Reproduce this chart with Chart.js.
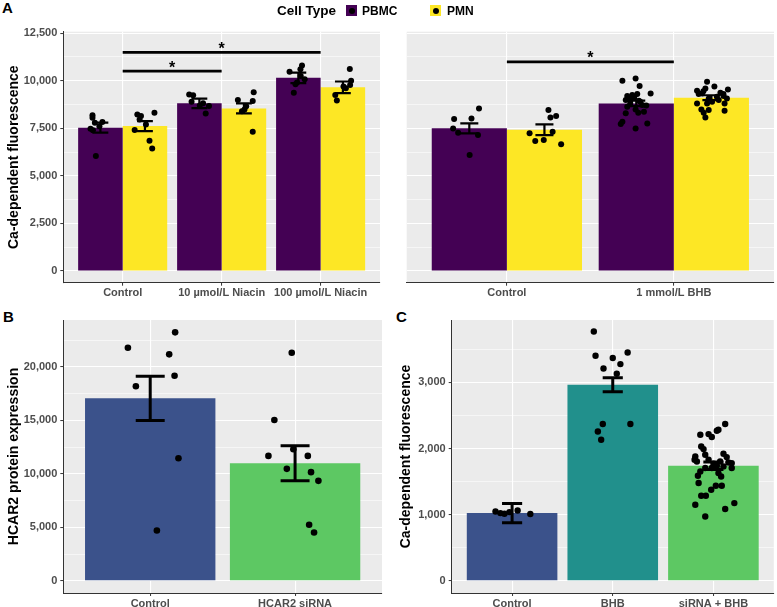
<!DOCTYPE html>
<html><head><meta charset="utf-8">
<script src="https://cdn.jsdelivr.net/npm/chart.js@4.4.0/dist/chart.umd.min.js"></script>
<style>
html,body{margin:0;padding:0;background:#fff;width:777px;height:607px;overflow:hidden;font-family:"Liberation Sans",Arial,sans-serif;}
.pane{position:absolute;}
.lbl{position:absolute;font-weight:bold;color:#000;line-height:1;}
.key{position:absolute;width:11px;height:11px;top:5px;}
.key i{position:absolute;left:2.5px;top:2.5px;width:6px;height:6px;border-radius:50%;background:#000;}
</style></head><body>

<div class="lbl" style="left:2px;top:0px;font-size:15px">A</div>
<div class="lbl" style="left:3px;top:309px;font-size:15px">B</div>
<div class="lbl" style="left:396px;top:309px;font-size:15px">C</div>

<div class="lbl" style="left:277px;top:4px;font-size:13.5px;z-index:5">Cell Type</div>
<div class="key" style="left:346px;background:#440154;z-index:5"><i></i></div>
<div class="lbl" style="left:362px;top:5px;font-size:12px;z-index:5">PBMC</div>
<div class="key" style="left:430px;background:#FDE725;z-index:5"><i></i></div>
<div class="lbl" style="left:447px;top:5px;font-size:12px;z-index:5">PMN</div>

<div class="pane" style="left:0;top:0"><canvas id="cA1" width="392" height="300"></canvas></div>
<div class="pane" style="left:392px;top:0"><canvas id="cA2" width="385" height="300"></canvas></div>
<div class="pane" style="left:0;top:300px"><canvas id="cB" width="392" height="307"></canvas></div>
<div class="pane" style="left:392px;top:300px"><canvas id="cC" width="385" height="307"></canvas></div>

<script>
// ---------------- DATA ----------------
// Panel A, left: niacin
const niacinCategories = ['Control', '10 µmol/L Niacin', '100 µmol/L Niacin'];
const niacinPBMCMean = [7530, 8810, 10150];
const niacinPBMCSE = [262, 252, 273];
const niacinPMNMean = [7615, 8545, 9650];
const niacinPMNSE = [263, 262, 308];
const niacinPBMCValues = [
  [8190, 8050, 7830, 7790, 7600, 7480, 7390, 6040],
  [9280, 9240, 8890, 8810, 8700, 8670, 8280],
  [10800, 10600, 10470, 10250, 10070, 9900, 9820, 9370]
];
const niacinPBMCJitter = [
  [-0.08, -0.08, 0.02, -0.056, -0.01, -0.1, -0.076, -0.046],
  [-0.103, -0.063, -0.079, 0.037, 0.004, 0.097, 0.064],
  [0.037, 0.021, -0.089, 0.024, 0.064, -0.013, -0.029, -0.046]
];
const niacinPMNValues = [
  [8230, 8315, 7967, 8150, 7700, 7405, 6843, 6443],
  [9390, 8980, 8930, 8660, 8490, 8400, 7320],
  [10610, 10000, 9770, 9700, 9600, 9250, 8960]
];
const niacinPMNJitter = [
  [-0.077, 0.096, -0.054, -0.04, 0.01, -0.104, 0.046, 0.073],
  [0.099, -0.061, 0.089, 0.023, 0.006, -0.02, 0.089],
  [0.07, 0.083, 0.073, 0.006, 0.03, -0.077, -0.061]
];
const niacinBrackets = [[0, 1, 10500], [0, 2, 11490]];

// Panel A, right: BHB
const bhbCategories = ['Control', '1 mmol/L BHB'];
const bhbPBMCMean = [7495, 8808];
const bhbPBMCSE = [263, 140];
const bhbPMNMean = [7421, 9106];
const bhbPMNSE = [280, 130];
const bhbPBMCValues = [
  [8545, 7983, 8020, 7494, 7264, 7143, 6093],
  [9995, 10120, 9716, 9333, 9191, 9244, 9296, 8981, 9018, 8945, 8718, 8630, 8493, 8283, 8314, 8367, 7842, 7721, 7757, 7494, 8800, 8900, 9100, 8700]
];
const bhbPBMCJitter = [
  [0.058, -0.091, 0.013, -0.097, -0.067, 0.052, 0.002],
  [-0.083, -0.004, 0.02, 0.086, -0.054, -0.024, 0.006, -0.063, -0.033, 0.016, 0.036, -0.054, -0.004, -0.063, 0.012, 0.046, -0.083, -0.093, 0.066, -0.004, -0.036, 0.024, -0.012, 0.06]
];
const bhbPMNValues = [
  [8456, 8141, 8070, 7316, 7232, 6880, 6828, 6654],
  [9950, 9470, 9596, 9543, 9365, 9154, 9191, 9070, 9333, 8808, 8808, 8892, 8808, 8493, 8456, 8419, 8314, 8072, 9296, 8981, 9070, 9700, 9450, 9300]
];
const bhbPMNJitter = [
  [0.024, 0.07, 0.036, 0.049, -0.089, -0.004, -0.055, 0.1],
  [-0.026, -0.086, -0.036, 0.099, 0.054, 0.033, 0.073, -0.016, -0.056, -0.086, -0.026, 0.004, 0.079, -0.06, -0.016, 0.079, -0.046, -0.036, -0.076, 0.044, 0.093, 0.018, -0.048, 0.072]
];
const bhbBrackets = [[0, 1, 10990]];

const caTicksMajor = [0, 2500, 5000, 7500, 10000, 12500];
const caTicksMinor = [1250, 3750, 6250, 8750, 11250];

// Panel B: HCAR2 protein expression
const hcarCategories = ['Control', 'HCAR2 siRNA'];
const hcarMean = [17075, 11000];
const hcarSE = [2070, 1640];
const hcarValues = [
  [21804, 23243, 21187, 18196, 19187, 11467, 4701],
  [21336, 15047, 11682, 11682, 12308, 10467, 10159, 9346, 5234, 4514]
];
const hcarJitter = [
  [-0.154, 0.172, 0.131, -0.099, 0.168, 0.195, 0.046],
  [-0.023, -0.143, -0.184, 0.088, -0.012, -0.057, 0.11, 0.161, 0.097, 0.131]
];
const hcarTicksMajor = [0, 5000, 10000, 15000, 20000];
const hcarTicksMinor = [2500, 7500, 12500, 17500, 22500];

// Panel C: Ca-dependent fluorescence with siRNA
const sirnaCategories = ['Control', 'BHB', 'siRNA + BHB'];
const sirnaMean = [1024, 2965, 1740];
const sirnaSE = [145, 105, 58];
const sirnaValues = [
  [1048, 1024, 1014, 1039, 1064, 1009],
  [3772, 3404, 3369, 3454, 3278, 3212, 3132, 2371, 2371, 2259, 2133],
  [2371, 2284, 2269, 2209, 2219, 2174, 2032, 1992, 1881, 1831, 1906, 1921, 1871, 1805, 1831, 1770, 1805, 1790, 1780, 1740, 1730, 1705, 1705, 1705, 1654, 1629, 1578, 1589, 1478, 1437, 1437, 1377, 1286, 1286, 1175, 1150, 1085, 973]
];
const sirnaJitter = [
  [-0.165, -0.116, -0.076, -0.027, 0.055, 0.181],
  [-0.188, -0.171, 0, 0.148, 0.076, -0.092, 0.04, -0.099, 0.175, -0.148, -0.115],
  [0.117, 0.05, 0.034, -0.13, -0.048, -0.016, -0.121, -0.098, -0.18, -0.187, -0.081, 0.1, 0.132, -0.164, -0.048, 0.001, 0.067, 0.149, 0.182, 0.034, 0.1, -0.081, -0.016, 0.182, -0.13, 0.05, 0.077, -0.154, -0.147, 0.024, 0.083, -0.022, -0.121, -0.075, 0.208, -0.18, 0.117, -0.081]
];
const sirnaTicksMajor = [0, 1000, 2000, 3000];
const sirnaTicksMinor = [500, 1500, 2500, 3500];

// ---------------- STYLE / RENDERING ----------------
Chart.defaults.font.family = '"Liberation Sans", Arial, sans-serif';
const TICK_COLOR = '#4D4D4D';
const AXIS_COLOR = '#333333';

const bgPlugin = {
  id: 'panelBg',
  beforeDraw(chart) {
    const {ctx, chartArea: a} = chart;
    ctx.save();
    ctx.fillStyle = '#EBEBEB';
    ctx.fillRect(a.left, a.top, a.right - a.left, a.bottom - a.top);
    ctx.restore();
  }
};

const annotPlugin = {
  id: 'annot',
  afterDatasetsDraw(chart, args, opts) {
    const {ctx} = chart;
    const x = chart.scales.x, y = chart.scales.y;
    ctx.save();
    (opts.errorBars || []).forEach(eb => {
      const meta = chart.getDatasetMeta(eb.dataset);
      const half = x.getPixelForValue(eb.cap) - x.getPixelForValue(0);
      eb.means.forEach((m, i) => {
        const cx = meta.data[i].x;
        const yHi = y.getPixelForValue(m + eb.errs[i]);
        const yLo = y.getPixelForValue(m - eb.errs[i]);
        ctx.strokeStyle = '#000';
        ctx.lineWidth = eb.width;
        ctx.lineCap = 'butt';
        ctx.beginPath();
        ctx.moveTo(cx, yHi); ctx.lineTo(cx, yLo);
        ctx.moveTo(cx - half, yHi); ctx.lineTo(cx + half, yHi);
        ctx.moveTo(cx - half, yLo); ctx.lineTo(cx + half, yLo);
        ctx.stroke();
      });
    });
    (opts.brackets || []).forEach(b => {
      const x1 = x.getPixelForValue(b[0]);
      const x2 = x.getPixelForValue(b[1]);
      const yy = y.getPixelForValue(b[2]);
      ctx.strokeStyle = '#000';
      ctx.lineWidth = 2.7;
      ctx.beginPath();
      ctx.moveTo(x1, yy); ctx.lineTo(x2, yy);
      ctx.stroke();
      ctx.fillStyle = '#000';
      ctx.font = 'bold 16px "Liberation Sans", Arial, sans-serif';
      ctx.textAlign = 'center';
      ctx.textBaseline = 'alphabetic';
      ctx.fillText('*', (x1 + x2) / 2, yy + 1.5);
    });
    ctx.restore();
  }
};

function buildPanel(id, p) {
  const nCat = p.categories.length;
  const nG = p.groups.length;
  const datasets = [];
  p.groups.forEach(g => {
    datasets.push({
      type: 'bar', order: 2,
      data: g.means.map((m, i) => ({x: i, y: m})),
      backgroundColor: g.colors,
      borderWidth: 0,
      categoryPercentage: 0.9, barPercentage: 1.0
    });
  });
  p.groups.forEach((g, gi) => {
    const dodge = nG > 1 ? (gi - (nG - 1) / 2) * 0.9 / nG : 0;
    const pts = [];
    g.values.forEach((vals, i) => vals.forEach((v, k) => pts.push({x: i + dodge + g.jitter[i][k], y: v})));
    datasets.push({
      type: 'scatter', order: 1, data: pts,
      pointRadius: p.pointRadius, pointHoverRadius: p.pointRadius,
      backgroundColor: '#000', borderWidth: 0
    });
  });
  const major = p.yMajor, minor = p.yMinor;
  const isMajor = v => major.indexOf(v) >= 0;
  new Chart(document.getElementById(id), {
    type: 'bar',
    data: {datasets},
    plugins: [bgPlugin, annotPlugin],
    options: {
      responsive: false, animation: false, events: [],
      layout: {padding: {top: p.padTop, right: p.padRight, left: 0, bottom: 0}},
      plugins: {
        legend: {display: false}, tooltip: {enabled: false},
        annot: {
          errorBars: p.groups.map((g, gi) => ({dataset: gi, means: g.means, errs: g.errs, cap: p.cap, width: p.ebWidth})),
          brackets: p.brackets || []
        }
      },
      scales: {
        x: {
          type: 'linear', min: -0.6, max: nCat - 0.4, offset: false, bounds: 'data',
          afterBuildTicks: s => { s.ticks = p.categories.map((c, i) => ({value: i})); },
          afterFit: s => { s.height = p.xHeight; },
          ticks: {
            callback: v => p.categories[v] !== undefined ? p.categories[v] : '',
            autoSkip: false, maxRotation: 0, minRotation: 0,
            font: {size: 11, weight: 'bold'}, color: TICK_COLOR, padding: 1
          },
          grid: {color: '#FFFFFF', lineWidth: 1.1, tickColor: AXIS_COLOR, tickLength: 3, tickWidth: 1, offset: false},
          border: {display: true, color: AXIS_COLOR, width: 1}
        },
        y: {
          min: p.yMin, max: p.yMax, bounds: 'data',
          afterBuildTicks: s => { s.ticks = major.concat(minor).sort((a, b) => a - b).map(v => ({value: v})); },
          afterFit: s => { s.width = p.yWidth; },
          ticks: {
            display: p.showY,
            callback: v => isMajor(v) ? v.toLocaleString('en-US') : '',
            autoSkip: false,
            font: {size: 11, weight: 'bold'}, color: TICK_COLOR, padding: 3
          },
          grid: {
            color: '#FFFFFF',
            lineWidth: c => (c.tick && isMajor(c.tick.value)) ? 1.1 : 0.55,
            tickColor: c => (c.tick && isMajor(c.tick.value)) ? AXIS_COLOR : 'rgba(0,0,0,0)',
            tickWidth: 1, tickLength: 3, drawTicks: p.showY
          },
          border: {display: p.showY, color: AXIS_COLOR, width: 1},
          title: {
            display: !!p.yTitle, text: p.yTitle || '', color: '#000',
            font: {size: 14, weight: 'bold'}, padding: {top: 5.5, bottom: 0}
          }
        }
      }
    }
  });
}

buildPanel('cA1', {
  categories: niacinCategories,
  groups: [
    {means: niacinPBMCMean, errs: niacinPBMCSE, values: niacinPBMCValues, jitter: niacinPBMCJitter, colors: '#440154'},
    {means: niacinPMNMean, errs: niacinPMNSE, values: niacinPMNValues, jitter: niacinPMNJitter, colors: '#FDE725'}
  ],
  brackets: niacinBrackets,
  yMin: -615, yMax: 12575, yMajor: caTicksMajor, yMinor: caTicksMinor,
  yTitle: 'Ca-dependent fluorescence', showY: true,
  yWidth: 63.3, xHeight: 17.3, padTop: 31.7, padRight: 12,
  pointRadius: 3, cap: 0.08, ebWidth: 2.2
});

buildPanel('cA2', {
  categories: bhbCategories,
  groups: [
    {means: bhbPBMCMean, errs: bhbPBMCSE, values: bhbPBMCValues, jitter: bhbPBMCJitter, colors: '#440154'},
    {means: bhbPMNMean, errs: bhbPMNSE, values: bhbPMNValues, jitter: bhbPMNJitter, colors: '#FDE725'}
  ],
  brackets: bhbBrackets,
  yMin: -615, yMax: 12575, yMajor: caTicksMajor, yMinor: caTicksMinor,
  yTitle: '', showY: false,
  yWidth: 14.7, xHeight: 17.3, padTop: 31.7, padRight: 1.4,
  pointRadius: 3, cap: 0.054, ebWidth: 2.2
});

buildPanel('cB', {
  categories: hcarCategories,
  groups: [
    {means: hcarMean, errs: hcarSE, values: hcarValues, jitter: hcarJitter, colors: ['#3B528B', '#5DC863']}
  ],
  yMin: -1150, yMax: 24400, yMajor: hcarTicksMajor, yMinor: hcarTicksMinor,
  yTitle: 'HCAR2 protein expression', showY: true,
  yWidth: 63.3, xHeight: 14, padTop: 20, padRight: 10,
  pointRadius: 3.3, cap: 0.1, ebWidth: 3
});

buildPanel('cC', {
  categories: sirnaCategories,
  groups: [
    {means: sirnaMean, errs: sirnaSE, values: sirnaValues, jitter: sirnaJitter, colors: ['#3B528B', '#21908C', '#5DC863']}
  ],
  yMin: -185, yMax: 3945, yMajor: sirnaTicksMajor, yMinor: sirnaTicksMinor,
  yTitle: 'Ca-dependent fluorescence', showY: true,
  yWidth: 59.7, xHeight: 14, padTop: 20, padRight: 1.3,
  pointRadius: 3.2, cap: 0.1, ebWidth: 3
});
</script>
</body></html>
